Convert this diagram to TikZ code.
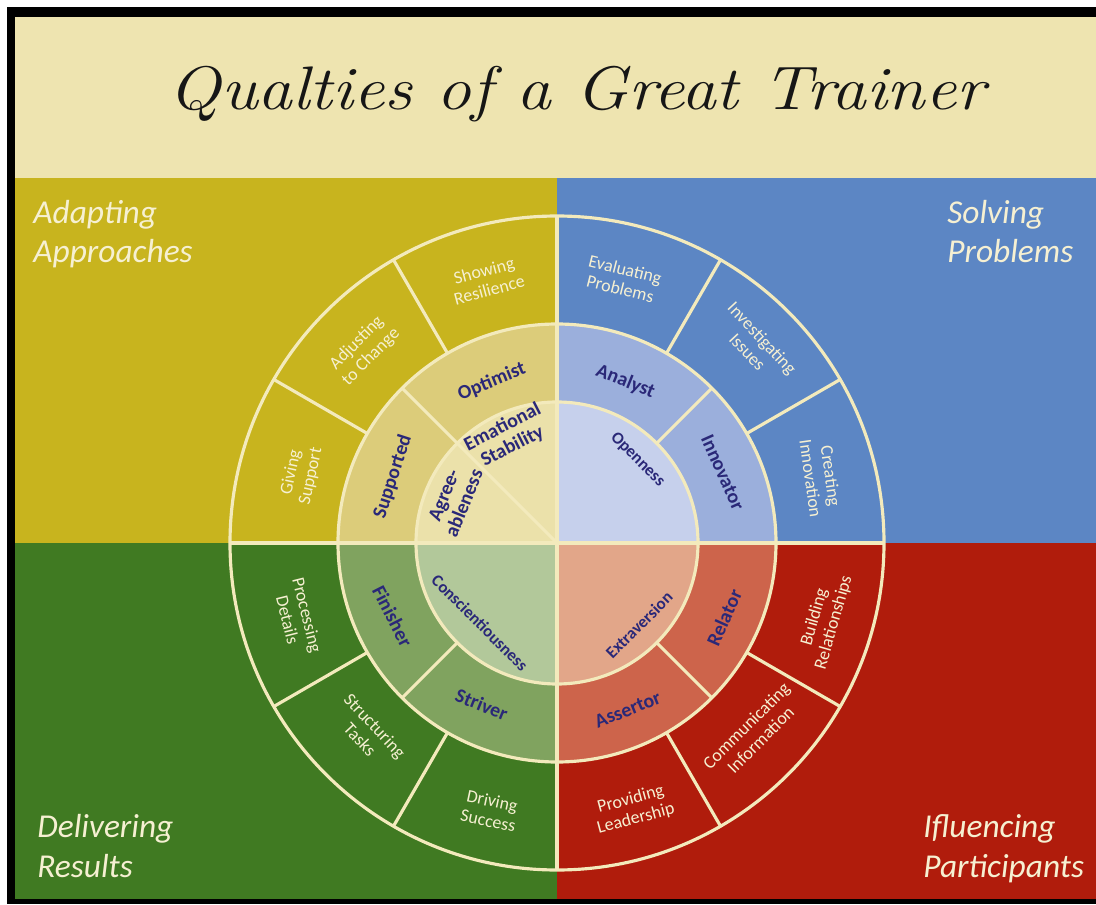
\documentclass[tikz,border=0pt]{standalone}
\usepackage{fontspec}
\usepackage{graphicx}
\newfontfamily\labelfont{Carlito}

\definecolor{band}{HTML}{EEE4B0}
\definecolor{cream}{HTML}{F3EABC}
\definecolor{labelwhite}{HTML}{F6F0D2}
\definecolor{navy}{HTML}{2A2878}
\definecolor{titleink}{HTML}{161616}
\definecolor{adaptbg}{HTML}{C8B41E}
\definecolor{adaptmid}{HTML}{DCCC7A}
\definecolor{adaptin}{HTML}{EBE1AA}
\definecolor{solvebg}{HTML}{5C86C4}
\definecolor{solvemid}{HTML}{9BAFDC}
\definecolor{solvein}{HTML}{C6D0EC}
\definecolor{deliverbg}{HTML}{407A22}
\definecolor{delivermid}{HTML}{80A35F}
\definecolor{deliverin}{HTML}{B2C89A}
\definecolor{influencebg}{HTML}{B01C0C}
\definecolor{influencemid}{HTML}{CD644B}
\definecolor{influencein}{HTML}{E2A689}

% filled pie slice around the wheel centre (c): colour, from, to, radius
\newcommand{\wheelsector}[4]{%
  \fill[#1] (c) -- ([shift={(#2:#4)}]c) arc[start angle=#2, end angle=#3, radius=#4] -- cycle;}

\begin{document}
\begin{tikzpicture}[x=0.02cm,y=0.02cm,
    ringline/.style={draw=cream, line width=1.8pt},
    outerlbl/.style={font=\labelfont\fontsize{10.2}{11.5}\selectfont, text=labelwhite, align=center, inner sep=0pt},
    traitlbl/.style={font=\labelfont\bfseries\fontsize{11.3}{12.3}\selectfont, text=navy, align=center, inner sep=0pt},
    corelbl/.style={font=\labelfont\bfseries\fontsize{9.6}{11}\selectfont, text=navy, align=center, inner sep=0pt},
    quadlbl/.style={font=\labelfont\itshape\fontsize{19}{22.7}\selectfont, text=labelwhite, align=left, anchor=base west, inner sep=0pt}]

% page, frame and title band
\fill[white] (0,0) rectangle (1096,904);
\fill[black] (7,0) rectangle (1096,897);
\fill[band] (15,726) rectangle (1096,887);

% the four quadrants
\fill[adaptbg] (15,361) rectangle (557,726);
\fill[solvebg] (557,361) rectangle (1096,726);
\fill[deliverbg] (15,5) rectangle (557,361);
\fill[influencebg] (557,5) rectangle (1096,361);

\coordinate (c) at (557,361);

% middle ring, then the core
\wheelsector{adaptmid}{90}{180}{219}
\wheelsector{solvemid}{0}{90}{219}
\wheelsector{delivermid}{180}{270}{219}
\wheelsector{influencemid}{270}{360}{219}
\wheelsector{adaptin}{90}{180}{141}
\wheelsector{solvein}{0}{90}{141}
\wheelsector{deliverin}{180}{270}{141}
\wheelsector{influencein}{270}{360}{141}

% circles and dividers
\draw[ringline] (c) circle[radius=141] (c) circle[radius=219] (c) circle[radius=327];
\draw[ringline] ([shift={(180:327)}]c) -- ([shift={(0:327)}]c);
\draw[ringline] ([shift={(90:327)}]c) -- ([shift={(270:327)}]c);
\draw[ringline] (c) -- ([shift={(135:141)}]c);
\foreach \a in {45,135,225,315}
  \draw[ringline] ([shift={(\a:141)}]c) -- ([shift={(\a:219)}]c);
\foreach \a in {30,60,120,150,210,240,300,330}
  \draw[ringline] ([shift={(\a:219)}]c) -- ([shift={(\a:327)}]c);

% outer ring
\node[outerlbl, rotate=15] (showing) at ([shift={(105:272)}]c) {Showing\\Resilience};
\node[outerlbl, rotate=45] (adjusting) at ([shift={(135:273)}]c) {Adjusting\\to Change};
\node[outerlbl, rotate=78] (giving) at ([shift={(165:265)}]c) {Giving\\Support};
\node[outerlbl, rotate=-14] (evaluating) at ([shift={(76:272)}]c) {Evaluating\\Problems};
\node[outerlbl, rotate=-47] (investigating) at ([shift={(45:280)}]c) {Investigating\\Issues};
\node[outerlbl, rotate=-82] (creating) at ([shift={(14:272)}]c) {Creating\\Innovation};
\node[outerlbl, rotate=-76] (processing) at ([shift={(196:270)}]c) {Processing\\Details};
\node[outerlbl, rotate=-47] (structuring) at ([shift={(225:268)}]c) {Structuring\\Tasks};
\node[outerlbl, rotate=-12] (driving) at ([shift={(256:276)}]c) {Driving\\Success};
\node[outerlbl, rotate=74] (building) at ([shift={(344:278)}]c) {Building\\Relationships};
\node[outerlbl, rotate=45] (communicating) at ([shift={(316:273)}]c) {Communicating\\Information};
\node[outerlbl, rotate=15] (providing) at ([shift={(286:277)}]c) {Providing\\Leadership};

% middle ring
\node[traitlbl, rotate=22] (optimist) at ([shift={(112:174)}]c) {Optimist};
\node[traitlbl, rotate=72] (supported) at ([shift={(158:177)}]c) {Supported};
\node[traitlbl, rotate=-22] (analyst) at ([shift={(67:175)}]c) {Analyst};
\node[traitlbl, rotate=-66] (innovator) at ([shift={(23:180)}]c) {Innovator};
\node[traitlbl, rotate=-63] (finisher) at ([shift={(204:180)}]c) {Finisher};
\node[traitlbl, rotate=-22] (striver) at ([shift={(245:178)}]c) {Striver};
\node[traitlbl, rotate=66] (relator) at ([shift={(336:183)}]c) {Relator};
\node[traitlbl, rotate=22] (assertor) at ([shift={(293:181)}]c) {Assertor};

% core
\node[traitlbl, rotate=27] (stability) at ([shift={(115:117)}]c) {Emational\\Stability};
\node[traitlbl, rotate=68] (agreeable) at ([shift={(157:112)}]c) {Agree-\\ableness};
\node[corelbl, rotate=-45] (openness) at ([shift={(46:116)}]c) {Openness};
\node[corelbl, rotate=-45] (conscientious) at ([shift={(226:111)}]c) {Conscientiousness};
\node[corelbl, rotate=45] (extraversion) at ([shift={(315:116)}]c) {Extraversion};

% quadrant headings (placed on the baseline of their last line)
\node[quadlbl] (adapting) at (33,641) {Adapting\\Approaches};
\node[quadlbl] (solving) at (947,641) {Solving\\Problems};
\node[quadlbl] (delivering) at (37,27) {Delivering\\Results};
\node[quadlbl] (influencing) at (923,27) {Ifluencing\\Participants};

% title
\node[font=\itshape\fontsize{35}{40}\selectfont, text=titleink, anchor=base, inner sep=0pt] (title) at (577,794) {\scalebox{1.13}[1]{Qualties of a Great Trainer}};
\end{tikzpicture}
\end{document}
